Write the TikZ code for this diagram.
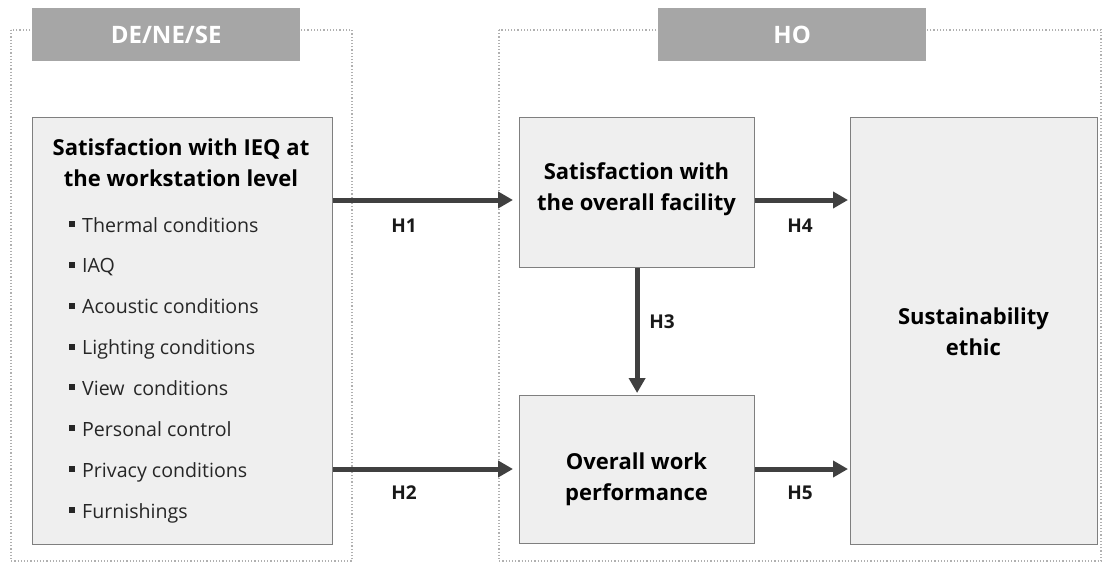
\documentclass[tikz,border=0pt]{standalone}
\usepackage{fontspec}
\setmainfont{Open Sans}
\usetikzlibrary{arrows.meta,calc}
\definecolor{boxfill}{HTML}{EFEFEF}
\definecolor{boxline}{HTML}{7F7F7F}
\definecolor{tabfill}{HTML}{A6A6A6}
\definecolor{arrowgray}{HTML}{404040}
\definecolor{framegray}{HTML}{B0B0B0}
\newcommand{\sqbullet}{\raisebox{5pt}{\rule{6pt}{6pt}}\hspace{7pt}}
\begin{document}
\begin{tikzpicture}[x=1pt,y=-1pt,
  box/.style={draw=boxline,fill=boxfill,line width=1.2pt,rectangle,anchor=north west,inner sep=0pt},
  tab/.style={fill=tabfill,rectangle,anchor=north west,inner sep=0pt,text=white,font=\fontsize{24}{28}\selectfont\bfseries},
  frame/.style={draw=framegray,line width=1.2pt,dotted},
  title/.style={font=\fontsize{22}{31}\selectfont\bfseries,align=center,text=black,inner sep=0pt},
  item/.style={font=\fontsize{19.6}{22}\selectfont,anchor=base west,inner sep=0pt,text=black!85},
  hlab/.style={font=\fontsize{19}{22}\selectfont\bfseries,text=black!90},
  arr/.style={draw=arrowgray,line width=5pt,-{Triangle[length=15pt,width=16pt]}}]
\useasboundingbox (0,0) rectangle (1114,565);
\fill[white] (0,0) rectangle (1114,565);

% dotted group frames
\draw[frame] (11,30) rectangle (352,561);
\draw[frame] (499,30) rectangle (1101,561);

% group tabs
\node[tab,minimum width=268pt,minimum height=53pt] (tabL) at (32,8) {DE/NE/SE};
\node[tab,minimum width=268pt,minimum height=53pt] (tabR) at (658,8) {HO};

% boxes
\node[box,minimum width=300pt,minimum height=427pt] (ieq) at (32,117) {};
\node[box,minimum width=235pt,minimum height=150pt] (fac) at (519,117) {};
\node[box,minimum width=235pt,minimum height=148pt] (perf) at (519,395) {};
\node[box,minimum width=247pt,minimum height=427pt] (sus) at (850,117) {};

% box texts
\node[title] (ieqt) at (181,163) {Satisfaction with IEQ at\\the workstation level};
\node[title] (fact) at (636.5,189) {Satisfaction with\\the overall facility};
\node[title] (perft) at (636.5,479) {Overall work\\performance};
\node[title] (sust) at (973.5,332) {Sustainability\\ethic};

% list of IEQ aspects
\node[item] (i1) at (69,232) {\sqbullet Thermal conditions};
\node[item] (i2) at (69,272.9) {\sqbullet IAQ};
\node[item] (i3) at (69,313.7) {\sqbullet Acoustic conditions};
\node[item] (i4) at (69,354.6) {\sqbullet Lighting conditions};
\node[item] (i5) at (69,395.4) {\sqbullet View\, conditions};
\node[item] (i6) at (69,436.3) {\sqbullet Personal control};
\node[item] (i7) at (69,477.1) {\sqbullet Privacy conditions};
\node[item] (i8) at (69,518) {\sqbullet Furnishings};

% hypothesis paths
\coordinate (h1s) at (ieq.east |- 0,200);
\coordinate (h1e) at ($(fac.west |- 0,200)+(-6,0)$);
\coordinate (h4s) at (fac.east |- 0,200);
\coordinate (h4e) at ($(sus.west |- 0,200)+(-2,0)$);
\coordinate (h2s) at (ieq.east |- 0,469);
\coordinate (h2e) at ($(perf.west |- 0,469)+(-6,0)$);
\coordinate (h5s) at (perf.east |- 0,469);
\coordinate (h5e) at ($(sus.west |- 0,469)+(-2,0)$);
\coordinate (h3e) at ($(perf.north)+(0,-2)$);

\draw[arr] (h1s) -- (h1e);
\draw[arr] (h4s) -- (h4e);
\draw[arr] (h2s) -- (h2e);
\draw[arr] (h5s) -- (h5e);
\draw[arr] (fac.south) -- (h3e);

\node[hlab] (l1) at (404,226) {H1};
\node[hlab] (l4) at (800,226) {H4};
\node[hlab] (l3) at (662,322) {H3};
\node[hlab] (l2) at (404,493) {H2};
\node[hlab] (l5) at (800,493) {H5};
\end{tikzpicture}
\end{document}
